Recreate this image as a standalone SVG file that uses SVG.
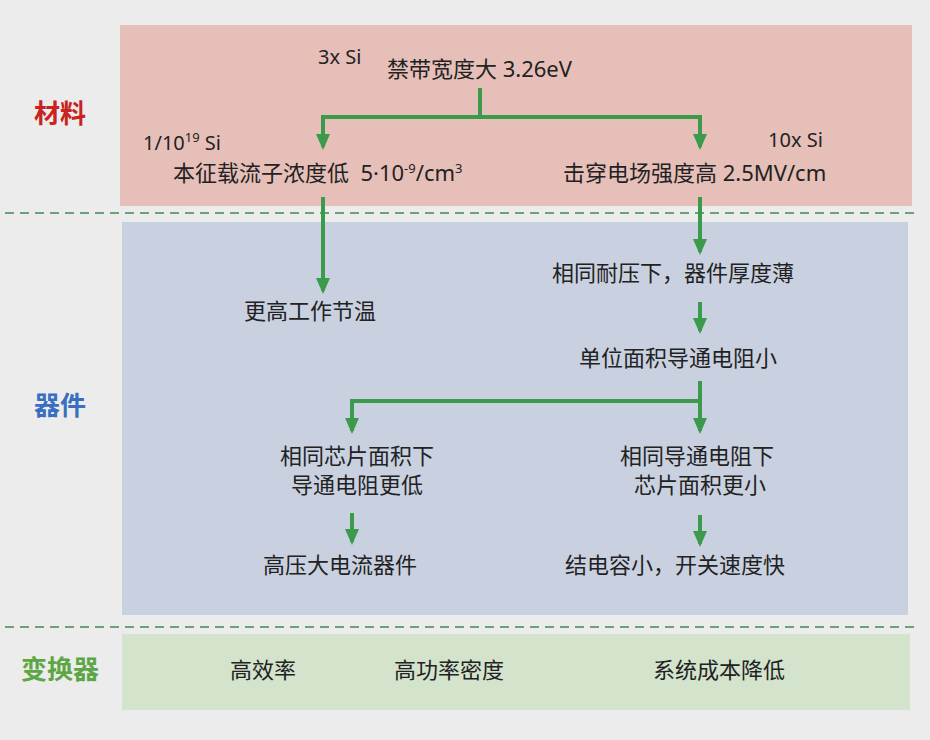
<svg xmlns="http://www.w3.org/2000/svg" width="930" height="740" viewBox="0 0 930 740">
<style>
.t{font-family:"Noto Sans","Noto Sans CJK SC",sans-serif;font-size:22px;fill:#222}
.lat{font-family:"Noto Sans","Noto Sans CJK SC",sans-serif;font-size:20px;fill:#222}
.sup{font-size:13px}
.b{font-family:"Noto Sans CJK SC",sans-serif;font-size:22px;fill:#222;text-anchor:middle}
.bt{font-family:"Noto Sans CJK SC",sans-serif;font-size:22px;fill:#222;text-anchor:middle}
.lab{font-family:"Noto Sans CJK SC",sans-serif;font-size:26px;font-weight:bold;text-anchor:middle}
.c{fill:none;stroke:#3b9a4c;stroke-width:4}
.a{marker-end:url(#arr)}
.dash{stroke:#6aa07a;stroke-width:2;stroke-dasharray:9 6}
</style>
<defs>
<marker id="arr" markerUnits="userSpaceOnUse" markerWidth="16" markerHeight="16" viewBox="0 0 16 16" refX="13" refY="8" orient="auto">
<path d="M0,1 L16,8 L0,15 z" fill="#3b9a4c"/>
</marker>
</defs>
<rect width="930" height="740" fill="#ececec"/>
<rect x="120" y="25" width="792" height="181" fill="#e6bfb8"/>
<rect x="122" y="222" width="786" height="393" fill="#c9d1e1"/>
<rect x="122" y="634" width="788" height="76" fill="#d3e3cc"/>
<line class="dash" x1="5" y1="213" x2="915" y2="213"/>
<line class="dash" x1="5" y1="627" x2="915" y2="627"/>

<g id="label-material"><text class="lab" x="60" y="123" fill="#c8231f">材料</text></g>
<g id="label-device"><text class="lab" x="60" y="415" fill="#3a6ec0">器件</text></g>
<g id="label-converter"><text class="lab" x="60" y="679" fill="#5da646">变换器</text></g>

<g id="connectors">
<path class="c" d="M480,88 V117"/>
<path class="c" d="M321,117 H702"/>
<path class="c a" d="M323,117 V147"/>
<path class="c a" d="M700,117 V147"/>
<path class="c a" d="M323,197 V291"/>
<path class="c a" d="M700,197 V252"/>
<path class="c a" d="M700,302 V331"/>
<path class="c a" d="M700,381 V431"/>
<path class="c" d="M350,401 H700"/>
<path class="c a" d="M352,401 V431"/>
<path class="c a" d="M352,513 V542"/>
<path class="c a" d="M700,515 V544"/>
</g>

<g id="bandgap">
<text class="lat" x="318" y="64">3x Si</text>
<text class="t" x="387" y="77">禁带宽度大 3.26eV</text>
</g>
<g id="carrier">
<text class="lat" x="143" y="150">1/10<tspan class="sup" dy="-8">19</tspan><tspan dy="8"> Si</tspan></text>
<text class="t" x="173" y="181" xml:space="preserve">本征载流子浓度低  5·10<tspan class="sup" dy="-8">-9</tspan><tspan dy="8">/cm</tspan><tspan class="sup" dy="-8">3</tspan></text>
</g>
<g id="breakdown">
<text class="lat" x="768" y="147">10x Si</text>
<text class="t" x="563" y="181">击穿电场强度高 2.5MV/cm</text>
</g>
<g id="junction-temp"><text class="b" x="310" y="319">更高工作节温</text></g>
<g id="thin"><text class="b" x="673" y="281">相同耐压下，器件厚度薄</text></g>
<g id="ron"><text class="b" x="678" y="366">单位面积导通电阻小</text></g>
<g id="same-area">
<text class="b" x="357" y="464">相同芯片面积下</text>
<text class="b" x="357" y="493">导通电阻更低</text>
</g>
<g id="same-ron">
<text class="b" x="697" y="464">相同导通电阻下</text>
<text class="b" x="700" y="493">芯片面积更小</text>
</g>
<g id="hv"><text class="b" x="340" y="573">高压大电流器件</text></g>
<g id="fast"><text class="b" x="675" y="573">结电容小，开关速度快</text></g>
<g id="eff"><text class="bt" x="263" y="678">高效率</text></g>
<g id="density"><text class="bt" x="449" y="678">高功率密度</text></g>
<g id="cost"><text class="bt" x="719" y="678">系统成本降低</text></g>
</svg>
